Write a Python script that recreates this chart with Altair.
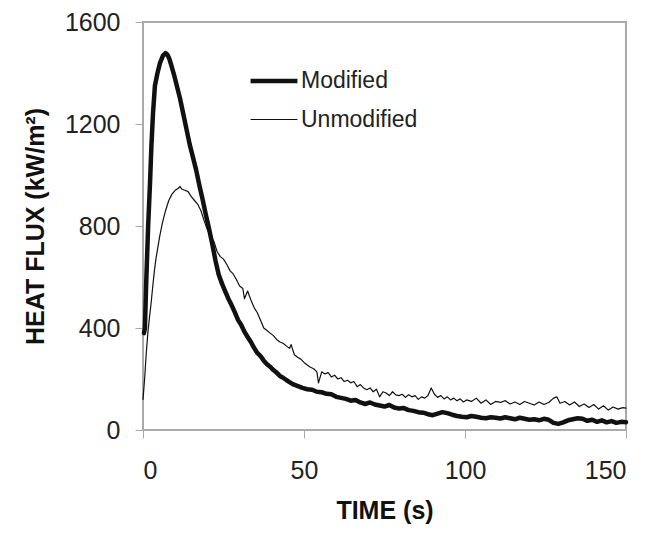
import altair as alt
import pandas as pd

# Modified (thick line): time (s), heat flux (kW/m2)
mod_t = [0.3, 0.6, 1.0, 1.6, 2.2, 2.6, 3.1, 3.7, 4.5, 5.3, 6.2, 7.0, 7.6, 8.2, 8.8, 9.6,
         10.5, 11.5, 12.5, 13.5, 14.5, 15.5, 16.5, 17.5, 18.5, 19.5, 20.5, 21.5, 22.5,
         23.5, 24.5, 25.5, 26.5, 27.5, 28.5, 29.5, 30.5, 31.5, 32.5, 33.5, 34.5, 35.5,
         36.5, 37.5, 38.5, 39.5, 40.5, 41.5, 42.5, 43.5, 44.5, 45.5, 46.5, 47.5, 48.5,
         49.5, 51, 52.5, 54, 55.5, 57, 58.5, 60, 61.5, 63, 64.5, 66, 67.5, 69, 70.5, 72,
         73.5, 75, 76.5, 78, 79.5, 81, 82.5, 84, 85.5, 87, 88.5, 90, 91.5, 93, 94.5, 96,
         97.5, 99, 100.5, 102, 103.5, 105, 106.5, 108, 109.5, 111, 112.5, 114, 115.5,
         117, 118.5, 120, 121.5, 123, 124.5, 126, 127.5, 129, 130.5, 132, 133.5, 135,
         136.5, 138, 139.5, 141, 142.5, 144, 145.5, 147, 148.5, 150]
mod_v = [380, 400, 580, 800, 975, 1110, 1240, 1350, 1400, 1440, 1468, 1478, 1472, 1455,
         1430, 1395, 1350, 1300, 1240, 1180, 1120, 1070, 1020, 960, 905, 845, 790, 730,
         665, 610, 575, 545, 515, 490, 462, 432, 412, 385, 365, 345, 322, 302, 290, 272,
         258, 248, 235, 225, 212, 205, 196, 188, 180, 175, 170, 165, 160, 158, 150, 148,
         142, 140, 130, 126, 122, 115, 118, 108, 102, 108, 100, 96, 92, 98, 88, 84, 86,
         78, 75, 70, 68, 62, 58, 64, 70, 66, 60, 55, 52, 50, 55, 52, 48, 46, 50, 48, 45,
         50, 46, 42, 48, 44, 40, 42, 38, 44, 40, 28, 24, 30, 38, 42, 46, 44, 36, 40, 32,
         38, 30, 35, 28, 32, 30]

# Unmodified (thin line)
unmod_t = [0.0, 0.5, 1.0, 1.5, 2.0, 2.5, 3.0, 3.5, 4.0, 4.6, 5.2, 6.0, 7.0, 8.0, 9.0,
           10.0, 11.0, 11.5, 12.0, 13.0, 14.0, 15.0, 16.0, 17.0, 18.0, 19.0, 20.0, 21.0,
           22.0, 23.0, 24.0, 25.0, 26.0, 27.0, 28.0, 29.0, 30.0, 31.0, 31.5, 32.5, 33.5,
           34.5, 35.5, 36.5, 37.5, 38.5, 39.5, 40.5, 41.5, 42.5, 43.5, 44.5, 45.5, 46.0,
           47.0, 48.0, 49.0, 50.0, 51.0, 52.0, 53.0, 54.0, 54.5, 55.5, 56.5, 57.5, 58.5,
           59.5, 60.5, 61.5, 62.5, 63.5, 64.5, 65.5, 66.5, 67.5, 68.5, 69.5, 70.5, 71.5,
           72.5, 73.5, 74.5, 75.5, 76.5, 77.5, 78.5, 79.5, 80.5, 81.5, 82.5, 83.5, 84.5,
           85.5, 86.5, 87.5, 88.5, 89.5, 90.5, 91.5, 92.5, 93.5, 94.5, 95.5, 96.5, 97.5,
           98.5, 99.5, 100.5, 102, 103.5, 105, 106.5, 108, 109.5, 111, 112.5, 114, 115.5,
           117, 118.5, 120, 121.5, 123, 124.5, 126, 127.5, 128.5, 129.5, 131, 132.5, 134,
           135.5, 137, 138.5, 140, 141.5, 143, 144.5, 146, 147.5, 149, 150]
unmod_v = [120, 200, 300, 380, 440, 495, 560, 620, 670, 715, 760, 810, 860, 900, 925,
           940, 948, 955, 945, 940, 935, 915, 900, 885, 860, 820, 785, 760, 740, 700, 680,
           670, 650, 625, 612, 590, 565, 555, 515, 545, 510, 480, 460, 430, 400, 390, 380,
           370, 355, 345, 340, 330, 320, 335, 295, 285, 278, 265, 255, 246, 240, 228, 185,
           228, 220, 225, 208, 215, 200, 205, 190, 195, 185, 190, 170, 178, 165, 158, 165,
           150, 160, 130, 150, 145, 135, 150, 138, 135, 140, 128, 138, 130, 135, 120, 130,
           125, 135, 165, 140, 128, 135, 122, 130, 118, 125, 115, 122, 110, 118, 112, 125,
           105, 118, 100, 112, 108, 115, 102, 110, 100, 112, 105, 98, 110, 100, 108, 125,
           130, 105, 112, 98, 110, 92, 102, 88, 100, 82, 95, 78, 90, 82, 88, 86]

series_names = ["Modified", "Unmodified"]
x_ticks = [0, 50, 100, 150]
y_ticks = [0, 400, 800, 1200, 1600]

df = pd.concat([
    pd.DataFrame({"t": mod_t, "v": mod_v, "series": series_names[0], "order": range(len(mod_t))}),
    pd.DataFrame({"t": unmod_t, "v": unmod_v, "series": series_names[1], "order": range(len(unmod_t))}),
], ignore_index=True)

FONT = "Liberation Sans"

chart = alt.Chart(df).mark_line(color="#111111", strokeJoin="round", strokeCap="round").encode(
    x=alt.X("t:Q", scale=alt.Scale(domain=[0, 150], nice=False, zero=False),
            axis=alt.Axis(values=x_ticks, format="d", title="TIME (s)",
                          labelPadding=20, titlePadding=15)),
    y=alt.Y("v:Q", scale=alt.Scale(domain=[0, 1600], nice=False),
            axis=alt.Axis(values=y_ticks, format="d", title="HEAT FLUX (kW/m²)",
                          labelPadding=15, titlePadding=16)),
    strokeWidth=alt.StrokeWidth(
        "series:N",
        scale=alt.Scale(domain=series_names, range=[4.5, 1.2]),
        legend=alt.Legend(
            title=None, orient="none", legendX=105, legendY=33,
            symbolType="stroke", symbolSize=2200, symbolStrokeColor="#111111",
            labelFontSize=23, labelFont=FONT, labelColor="#222222",
            rowPadding=2, padding=0, labelOffset=1,
        ),
    ),
    order="order:Q",
).properties(
    width=483, height=408,
    autosize=alt.AutoSizeParams(type="none"),
    padding={"left": 135, "top": 14, "right": 18, "bottom": 95},
).configure_view(
    stroke="#aaaaaa", strokeWidth=2
).configure_axis(
    domain=False, grid=False, ticks=True, tickColor="#aaaaaa", tickSize=8, tickWidth=1,
    labelFont=FONT, labelFontSize=25, labelColor="#222222",
    titleFont=FONT, titleFontSize=25, titleFontWeight="bold", titleColor="#111111",
)

chart.save("out.html", embed_options={"renderer": "svg", "actions": False})
